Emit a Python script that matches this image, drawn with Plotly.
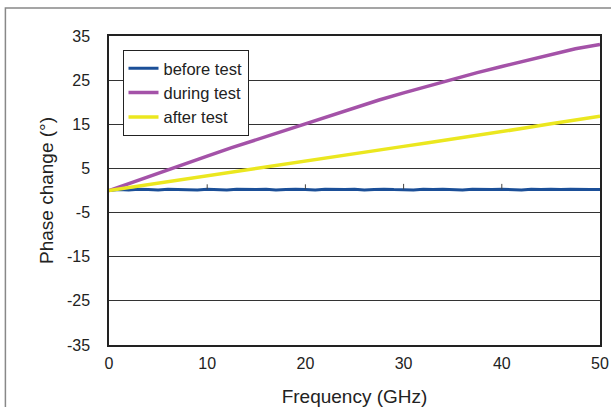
import plotly.graph_objects as go

freq = [0, 2.5, 5, 7.5, 10, 12.5, 15, 17.5, 20, 22.5, 25, 27.5, 30, 32.5, 35, 37.5, 40, 42.5, 45, 47.5, 50]
during = [0, 2.0, 3.9, 5.9, 7.8, 9.7, 11.5, 13.4, 15.3, 17.1, 18.8, 20.5, 22.1, 23.7, 25.2, 26.7, 28.1, 29.5, 30.8, 32.1, 33.1]
after = [0, 0.85, 1.7, 2.55, 3.4, 4.25, 5.1, 5.95, 6.8, 7.6, 8.4, 9.2, 10.0, 10.8, 11.6, 12.4, 13.3, 14.2, 15.1, 16.0, 16.8]

freq_before = list(range(0, 51))
before = [0.0, 0.2, 0.1, 0.3, 0.2, 0.1, 0.3, 0.2, 0.2, 0.1, 0.3, 0.2, 0.1, 0.3, 0.2, 0.2, 0.3, 0.1, 0.2, 0.3,
          0.2, 0.1, 0.3, 0.2, 0.2, 0.3, 0.1, 0.2, 0.3, 0.2, 0.2, 0.1, 0.3, 0.2, 0.3, 0.2, 0.1, 0.3, 0.2, 0.2,
          0.3, 0.2, 0.1, 0.3, 0.2, 0.3, 0.2, 0.3, 0.2, 0.2, 0.2]

spike_freq = [10, 20, 30, 40]
spike_top = [1.4, 1.4, 1.5, 1.5]

yticks = [35, 25, 15, 5, -5, -15, -25, -35]
ytick_text = ["35", "25", "15", "5", "-5", "-15", "-25", "-35"]
xticks = [0, 10, 20, 30, 40, 50]

FONT = "Liberation Sans, Arial, sans-serif"

fig = go.Figure()
fig.add_trace(go.Scatter(x=freq_before, y=before, mode="lines", name="before test",
                         line=dict(color="#1b4f98", width=3)))
sx, sy = [], []
for f, t in zip(spike_freq, spike_top):
    sx += [f, f, None]
    sy += [0.3, t, None]
fig.add_trace(go.Scatter(x=sx, y=sy, mode="lines", showlegend=False,
                         line=dict(color="#444444", width=1)))
fig.add_trace(go.Scatter(x=freq, y=during, mode="lines", name="during test",
                         line=dict(color="#a452a8", width=3.5)))
fig.add_trace(go.Scatter(x=freq, y=after, mode="lines", name="after test",
                         line=dict(color="#ebe71f", width=3.5)))

fig.update_layout(
    width=611, height=407,
    margin=dict(l=109, r=11, t=36, b=62, autoexpand=False),
    paper_bgcolor="white", plot_bgcolor="white",
    font=dict(family=FONT, size=16, color="#222222"),
    showlegend=True,
    legend=dict(x=0.0275, y=0.955, xanchor="left", yanchor="top",
                bgcolor="white", bordercolor="#222222", borderwidth=1,
                font=dict(family=FONT, size=16.5, color="#222222"),
                itemwidth=30, tracegroupgap=0),
    xaxis=dict(range=[0, 50], tickvals=xticks, showgrid=False, zeroline=False,
               showline=True, linecolor="#222222", linewidth=1.5, mirror=True,
               ticks="", ticklabelstandoff=3,
               title=dict(text="Frequency (GHz)", standoff=22),
               tickfont=dict(size=16), automargin=False),
    yaxis=dict(range=[-35, 35], tickvals=yticks, ticktext=ytick_text, showgrid=True,
               gridcolor="#333333", gridwidth=1,
               zeroline=False, showline=True, linecolor="#222222", linewidth=1.5, mirror=True,
               ticks="", ticklabelstandoff=14,
               title=dict(text="Phase change (°)", standoff=8),
               tickfont=dict(size=16), automargin=False),
    shapes=[dict(type="rect", xref="paper", yref="paper",
                 x0=-0.211, x1=1.05, y0=-0.25, y1=1.0906,
                 line=dict(color="#888888", width=1.5), fillcolor="rgba(0,0,0,0)", layer="below")],
)

fig.write_html("out.html")
